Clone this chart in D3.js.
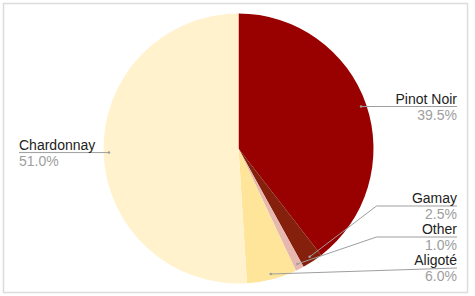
<!DOCTYPE html>
<html>
<head>
<meta charset="utf-8">
<script src="https://cdn.jsdelivr.net/npm/d3@7"></script>
<style>
  html, body { margin: 0; padding: 0; background: #fff; }
  svg { display: block; }
  text { font-family: "Liberation Sans", Arial, sans-serif; font-size: 14px; }
</style>
</head>
<body>
<div id="chart"></div>
<script>
// wine grape share, clockwise from 12 o'clock
var grapes = ["Pinot Noir", "Gamay", "Other", "Aligoté", "Chardonnay"];
var shares = [39.5, 2.5, 1.0, 6.0, 51.0];
var colours = ["#990000", "#85200c", "#e6b8af", "#ffe599", "#fff2cc"];

var width = 475, height = 296;
var cx = 238.5, cy = 148.5, radius = 135;

var svg = d3.select("#chart").append("svg")
      .attr("width", width)
      .attr("height", height);

// light frame round the chart
svg.append("rect")
  .attr("x", 3.5).attr("y", 3.5)
  .attr("width", 464).attr("height", 289)
  .style("fill", "none")
  .style("stroke", "#dcdcdc")
  .style("stroke-width", 1.5);

var data = grapes.map(function(g, i) { return {name: g, value: shares[i], colour: colours[i]}; });

var pie = d3.pie().sort(null).value(function(d) { return d.value; });
var arc = d3.arc().innerRadius(0).outerRadius(radius);
var dotArc = d3.arc().innerRadius(radius * 0.96).outerRadius(radius * 0.96);

var arcs = pie(data);

var g = svg.append("g").attr("transform", "translate(" + cx + "," + cy + ")");

g.selectAll("path.slice")
  .data(arcs)
  .enter().append("path")
  .attr("class", "slice")
  .attr("d", arc)
  .style("fill", function(d) { return d.data.colour; });

// label layout: right side labels stacked up from the bottom so they don't overlap
var rightEnd = 457, leftStart = 19, gap = 31, bottomY = height - 28;
arcs.forEach(function(d) {
  var c = dotArc.centroid(d);
  d.dot = [cx + c[0], cy + c[1]];
  d.right = (d.startAngle + d.endAngle) / 2 < Math.PI;
  d.ly = d.dot[1];
});
var rights = arcs.filter(function(d) { return d.right; })
      .sort(function(a, b) { return b.dot[1] - a.dot[1]; });
var limit = bottomY;
rights.forEach(function(d) {
  d.ly = Math.min(d.dot[1], limit);
  limit = d.ly - gap;
});

var labels = svg.append("g");

arcs.forEach(function(d) {
  var pts;
  var lineEnd = d.right ? rightEnd : leftStart;
  if (Math.abs(d.dot[1] - d.ly) > 10) {
    var elbow = cx + radius + 3;
    pts = [d.dot, [elbow, d.ly], [lineEnd, d.ly]];
  } else {
    pts = [d.dot, [lineEnd, d.ly]];
  }
  labels.append("path")
    .attr("d", d3.line()(pts))
    .style("fill", "none")
    .style("stroke", "#9e9e9e")
    .style("stroke-width", 1);
  labels.append("circle")
    .attr("cx", d.dot[0]).attr("cy", d.dot[1])
    .attr("r", 1.3)
    .style("fill", "#9e9e9e");

  var tx = d.right ? rightEnd : leftStart;
  var anchor = d.right ? "end" : "start";
  labels.append("text")
    .attr("x", tx).attr("y", d.ly - 3)
    .attr("text-anchor", anchor)
    .style("fill", "#222")
    .text(d.data.name);
  labels.append("text")
    .attr("x", tx).attr("y", d.ly + 13)
    .attr("text-anchor", anchor)
    .style("fill", "#9e9e9e")
    .text(d3.format(".1f")(d.data.value) + "%");
});
</script>
</body>
</html>
